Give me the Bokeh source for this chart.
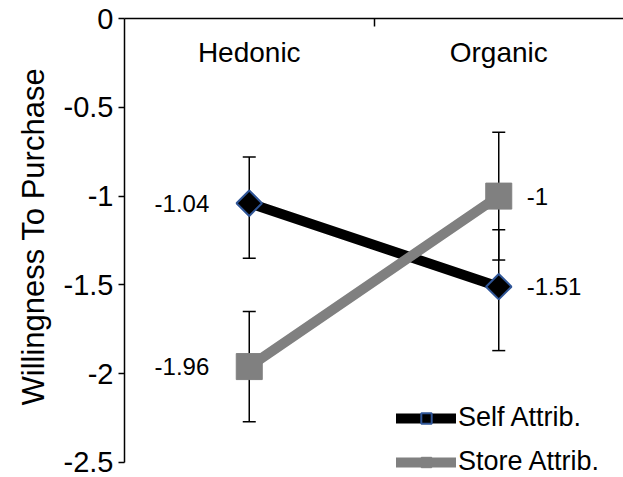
import numpy as np
from bokeh.plotting import figure
from bokeh.models import (Range1d, LinearAxis, FixedTicker, Whisker, TeeHead, Title,
                          ColumnDataSource, Legend, LegendItem)
from bokeh.core.properties import value
from bokeh.embed import file_html
from bokeh.resources import INLINE

categories = ["Hedonic", "Organic"]
self_vals = [-1.04, -1.51]
store_vals = [-1.96, -1.00]
self_err_plus = [0.26, 0.32]
self_err_minus = [0.31, 0.36]
store_err_plus = [0.31, 0.36]
store_err_minus = [0.31, 0.36]
y_ticks = [0, -0.5, -1, -1.5, -2, -2.5]
y_label = "Willingness To Purchase"
series_names = ["Self Attrib.", "Store Attrib."]

FONT = "Liberation Sans"

# category positions on a numeric axis (category i centred at i + 0.5)
xpos = [i + 0.5 for i in range(len(categories))]

# frame runs to the bottom of the canvas so the legend is not clipped;
# the y axis line itself stops at the last tick
ymin_frame = y_ticks[-1] - 0.0845

p = figure(width=623, height=477, output_backend="svg", toolbar_location=None,
           x_range=Range1d(0, len(categories)),
           y_range=Range1d(ymin_frame, y_ticks[0]),
           min_border_left=124, min_border_right=0, min_border_top=18, min_border_bottom=0,
           x_axis_location=None)
p.grid.visible = False
p.outline_line_color = None
p.background_fill_color = "white"
p.border_fill_color = "white"

# y axis
ya = p.yaxis[0]
ya.ticker = FixedTicker(ticks=y_ticks)
ya.bounds = (y_ticks[-1], y_ticks[0])
ya.major_label_overrides = {t: f"{t:g}" for t in y_ticks}
ya.major_tick_in = 0
ya.major_tick_out = 6
ya.minor_tick_in = 0
ya.minor_tick_out = 0
ya.axis_line_width = 1.5
ya.major_tick_line_width = 1.5
ya.major_label_text_font = FONT
ya.major_label_text_font_size = "29px"
ya.major_label_text_color = "black"
ya.major_label_standoff = 5

# axis title as a left-side title, placed along the plotted range
t = Title(text=y_label, align="left", offset=72, standoff=20,
          text_font=FONT, text_font_size="31px", text_font_style="normal",
          text_color="black")
p.add_layout(t, "left")

# top axis line (x axis crosses at 0) with a tick between categories
ta = LinearAxis(ticker=FixedTicker(ticks=[1]))
ta.major_tick_in = 8
ta.major_tick_out = 0
ta.minor_tick_in = 0
ta.minor_tick_out = 0
ta.axis_line_width = 1.5
ta.major_tick_line_width = 1.5
ta.major_label_text_font_size = "0px"
ta.major_label_standoff = 0
p.add_layout(ta, "above")

# error bars
s_self = ColumnDataSource(dict(x=xpos,
                               upper=[v + e for v, e in zip(self_vals, self_err_plus)],
                               lower=[v - e for v, e in zip(self_vals, self_err_minus)]))
s_store = ColumnDataSource(dict(x=xpos,
                                upper=[v + e for v, e in zip(store_vals, store_err_plus)],
                                lower=[v - e for v, e in zip(store_vals, store_err_minus)]))
for src in (s_self, s_store):
    w = Whisker(source=src, base="x", upper="upper", lower="lower", line_color="black",
                line_width=1.5,
                upper_head=TeeHead(size=13, line_color="black", line_width=1.5),
                lower_head=TeeHead(size=13, line_color="black", line_width=1.5),
                level="underlay")
    p.add_layout(w)

# lines + markers
l_self = p.line(xpos, self_vals, line_color="black", line_width=10, line_cap="round")
l_store = p.line(xpos, store_vals, line_color="#808080", line_width=10, line_cap="round")
m_self = p.scatter(xpos, self_vals, marker="square", angle=np.pi / 4, size=18,
                   fill_color="black", line_color="#2F5597", line_width=2)
m_store = p.scatter(xpos, store_vals, marker="square", size=26,
                    fill_color="#808080", line_color="#808080", line_width=1)

# category labels near the top axis
p.text(x=xpos, y=[y_ticks[0]] * len(categories), text=categories,
       text_font=value(FONT), text_font_size="28px", text_align="center",
       text_baseline="middle", y_offset=34, text_color="black")

# data labels
fmt = lambda v: f"{v:g}"
p.text(x=[xpos[0]] * 2, y=[self_vals[0], store_vals[0]],
       text=[fmt(self_vals[0]), fmt(store_vals[0])],
       text_font=value(FONT), text_font_size="24px", text_align="right",
       text_baseline="middle", x_offset=-40, text_color="black")
p.text(x=[xpos[1]] * 2, y=[self_vals[1], store_vals[1]],
       text=[fmt(self_vals[1]), fmt(store_vals[1])],
       text_font=value(FONT), text_font_size="24px", text_align="left",
       text_baseline="middle", x_offset=28, text_color="black")

legend = Legend(items=[LegendItem(label=series_names[0], renderers=[l_self, m_self]),
                       LegendItem(label=series_names[1], renderers=[l_store, m_store])],
                location=(272, 0), orientation="vertical")
legend.glyph_width = 60
legend.glyph_height = 26
legend.label_height = 26
legend.spacing = 13
legend.padding = 0
legend.margin = 0
legend.label_standoff = 2
legend.border_line_color = None
legend.background_fill_alpha = 0
legend.label_text_font = FONT
legend.label_text_font_size = "27px"
legend.label_text_color = "black"
p.add_layout(legend, "center")

open("out.html", "w").write(file_html(p, INLINE))
